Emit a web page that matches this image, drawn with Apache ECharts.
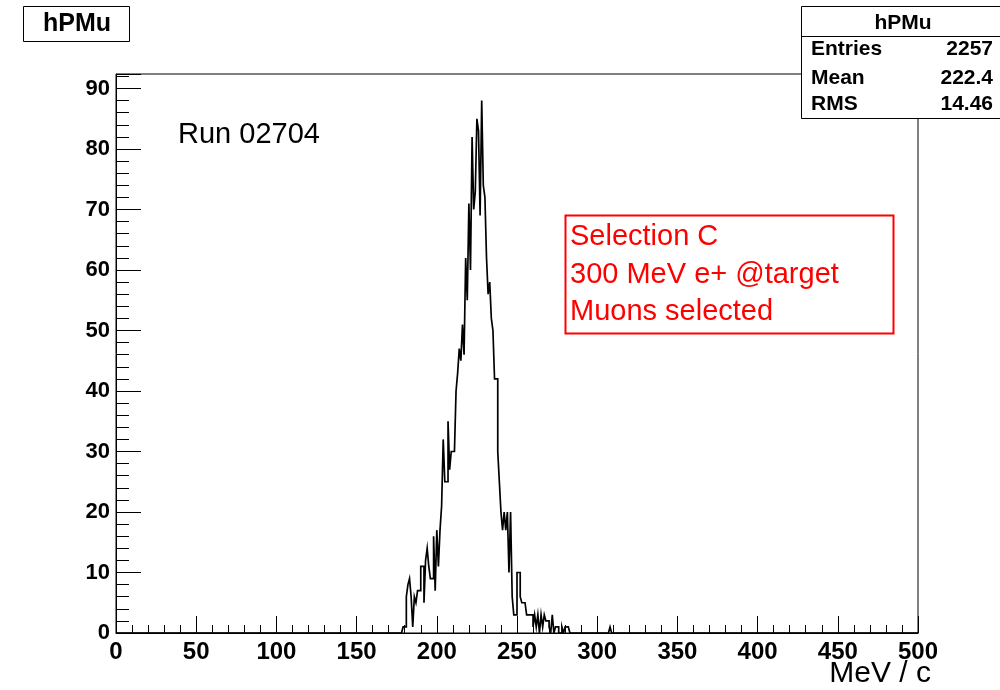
<!DOCTYPE html>
<html>
<head>
<meta charset="utf-8">
<script src="https://cdn.jsdelivr.net/npm/echarts@6/dist/echarts.min.js"></script>
<style>
  html, body { margin: 0; padding: 0; background: #ffffff; }
  #chart { width: 1000px; height: 690px; }
</style>
</head>
<body>
<div id="chart"></div>
<script>
// Histogram hPMu: 1 MeV/c bins, first bin starts at 179 MeV/c
const firstBin = 179;
const counts = [
  1, 1, 6, 8, 9, 6, 1, 6, 5, 7,          // 179-188
  7, 11, 11, 5, 12, 14, 11, 9, 9, 16,    // 189-198
  7, 17, 11, 17, 21, 32, 25, 25, 35, 27, // 199-208
  30, 30, 30, 40, 43, 47, 45, 51, 46, 62,// 209-218
  55, 71, 60, 82, 70, 73, 85, 83, 69, 88,// 219-228
  74, 72, 62, 56, 58, 52, 50, 42, 42, 30,// 229-238
  25, 20, 17, 20, 17, 20, 10, 20, 6, 3,  // 239-248
  3, 10, 10, 6, 5, 5, 5, 3, 3, 3,        // 249-258
  3, 1, 3, 1, 3, 0, 3, 1, 3, 2,          // 259-268
  2, 1, 0, 3, 0, 1, 1, 0, 0, 1,          // 269-278
  0, 1, 1, 1, 0, 0, 0, 0, 0, 0,          // 279-288
  0, 0, 0, 0, 0, 0, 0, 0, 0, 0,          // 289-298
  0, 0, 0, 0, 0, 0, 0, 0, 0, 1,          // 299-308
  0                                       // 309
];
const xTicks = [0, 50, 100, 150, 200, 250, 300, 350, 400, 450, 500];
const yTicks = [0, 10, 20, 30, 40, 50, 60, 70, 80, 90];
const histName = 'hPMu';
const statLabels = ['Entries', 'Mean', 'RMS'];
const statValues = ['2257', '222.4', '14.46'];
const runText = 'Run 02704';
const noteLines = ['Selection C', '300 MeV e+ @target', 'Muons selected'];
const xTitle = 'MeV / c';

// build step outline for all 500 bins (0..500)
const stepData = [];
for (let b = 0; b < 500; b++) {
  const i = b - firstBin;
  const v = (i >= 0 && i < counts.length) ? counts[i] : 0;
  stepData.push([b, v]);
}
stepData.push([500, 0]);

const FONT = '"Liberation Sans", Arial, Helvetica, sans-serif';
const chart = echarts.init(document.getElementById('chart'), null, { renderer: 'canvas' });

const graphics = [
  // title box
  { type: 'rect', shape: { x: 23.5, y: 6.5, width: 106, height: 35 },
    style: { fill: '#fff', stroke: '#000', lineWidth: 1 }, z: 10 },
  { type: 'text', x: 77, y: 24, z: 11,
    style: { text: histName, font: 'bold 25px ' + FONT, fill: '#000', align: 'center', verticalAlign: 'middle' } },
  // stats box
  { type: 'rect', shape: { x: 801.5, y: 6.5, width: 220, height: 112 },
    style: { fill: '#fff', stroke: '#000', lineWidth: 1 }, z: 10 },
  { type: 'line', shape: { x1: 801.5, y1: 36.5, x2: 1000, y2: 36.5 },
    style: { stroke: '#000', lineWidth: 1 }, z: 11 },
  { type: 'text', x: 903, y: 23, z: 11,
    style: { text: histName, font: 'bold 21px ' + FONT, fill: '#000', align: 'center', verticalAlign: 'middle' } },
  // run text
  { type: 'text', x: 178, y: 135, z: 11,
    style: { text: runText, font: '29px ' + FONT, fill: '#000', align: 'left', verticalAlign: 'middle' } },
  // red note box
  { type: 'rect', shape: { x: 565.5, y: 215.5, width: 328, height: 118 },
    style: { fill: 'transparent', stroke: '#ff0000', lineWidth: 2 }, z: 10 },
  // x axis title
  { type: 'text', x: 931, y: 674, z: 11,
    style: { text: xTitle, font: '30px ' + FONT, fill: '#000', align: 'right', verticalAlign: 'middle' } }
];
const statY = [49, 78, 104];
statLabels.forEach((l, k) => {
  graphics.push({ type: 'text', x: 811, y: statY[k], z: 11,
    style: { text: l, font: 'bold 21px ' + FONT, fill: '#000', align: 'left', verticalAlign: 'middle' } });
  graphics.push({ type: 'text', x: 993, y: statY[k], z: 11,
    style: { text: statValues[k], font: 'bold 21px ' + FONT, fill: '#000', align: 'right', verticalAlign: 'middle' } });
});
const noteY = [237, 275, 312];
noteLines.forEach((t, k) => {
  graphics.push({ type: 'text', x: 570, y: noteY[k], z: 11,
    style: { text: t, font: '29px ' + FONT, fill: '#ff0000', align: 'left', verticalAlign: 'middle' } });
});

const option = {
  animation: false,
  backgroundColor: '#ffffff',
  grid: {
    left: 116, top: 74, width: 802, bottom: 57,
    show: true, borderColor: '#000', borderWidth: 1, backgroundColor: 'transparent'
  },
  xAxis: {
    type: 'value', min: xTicks[0], max: xTicks[xTicks.length - 1], interval: 50,
    axisLine: { show: true, onZero: false, lineStyle: { color: '#000', width: 1 } },
    axisTick: { show: true, inside: true, length: 17, lineStyle: { color: '#000', width: 1 } },
    minorTick: { show: true, splitNumber: 5, length: 8, lineStyle: { color: '#000', width: 1 } },
    splitLine: { show: false },
    axisLabel: { show: true, margin: 7, color: '#000', fontSize: 24, fontWeight: 'bold', fontFamily: FONT,
      formatter: v => xTicks.includes(v) ? String(v) : '' }
  },
  yAxis: {
    type: 'value', min: yTicks[0], max: 92.4, interval: 10,
    axisLine: { show: true, lineStyle: { color: '#000', width: 1 } },
    axisTick: { show: true, inside: true, length: 25, lineStyle: { color: '#000', width: 1 } },
    minorTick: { show: true, splitNumber: 5, length: 13, lineStyle: { color: '#000', width: 1 } },
    splitLine: { show: false },
    axisLabel: { show: true, margin: 6, color: '#000', fontSize: 22, fontWeight: 'bold', fontFamily: FONT,
      showMaxLabel: false,
      formatter: v => yTicks.includes(v) ? String(v) : '' }
  },
  series: [{
    type: 'line',
    step: 'end',
    data: stepData,
    showSymbol: false,
    symbol: 'none',
    sampling: null,
    lineStyle: { color: '#000', width: 1.7, join: 'miter', cap: 'butt' },
    z: 3
  }],
  graphic: graphics
};
chart.setOption(option);
</script>
</body>
</html>
